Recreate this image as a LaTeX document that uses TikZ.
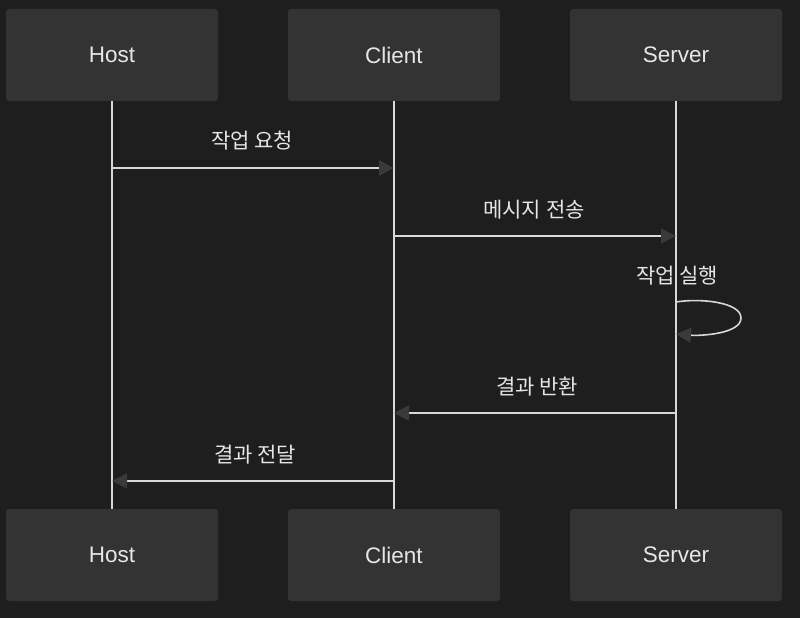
\documentclass[tikz,border=0pt]{standalone}
\usepackage{fontspec}
\setmainfont{Noto Sans CJK KR}
\newfontfamily\latinsans{Liberation Sans}
\usetikzlibrary{arrows.meta}
\definecolor{bg}{HTML}{1E1E1E}
\definecolor{boxfill}{HTML}{333333}
\definecolor{linec}{HTML}{D8D8D8}
\definecolor{txt}{HTML}{E6E6E6}
\definecolor{headc}{HTML}{3A3A3A}
\tikzset{
  actor/.style={fill=boxfill, rounded corners=3pt, minimum width=212pt, minimum height=92pt, inner sep=0pt, text=txt, font=\latinsans\fontsize{22.5}{26}\selectfont},
  life/.style={draw=linec, line width=1.6pt},
  msg/.style={draw=linec, line width=1.6pt, -{Triangle[length=15pt,width=15pt,fill=headc,color=headc]}},
  lbl/.style={text=txt, font=\fontsize{21}{25}\selectfont, inner sep=0pt}
}
\begin{document}
\begin{tikzpicture}[x=1pt,y=-1pt]
\useasboundingbox[fill=bg] (0,0) rectangle (800,618);
\node[actor] (ht) at (112,55) {Host};
\node[actor] (ct) at (394,55) {Client};
\node[actor] (st) at (676,55) {Server};
\node[actor] (hb) at (112,555) {Host};
\node[actor] (cb) at (394,555) {Client};
\node[actor] (sb) at (676,555) {Server};
\draw[life] (ht.south) -- (hb.north);
\draw[life] (ct.south) -- (cb.north);
\draw[life] (st.south) -- (sb.north);
% messages
\coordinate (h1) at (112,168); \coordinate (c1) at (394,168);
\coordinate (c2) at (394,236); \coordinate (s2) at (676,236);
\coordinate (s3a) at (676,302); \coordinate (s3b) at (676,334);
\coordinate (s4) at (676,413); \coordinate (c4) at (394,413);
\coordinate (c5) at (394,481); \coordinate (h5) at (112,481);
\draw[msg] (h1) -- (c1);
\node[lbl] (l1) at (252,141) {작업 요청};
\draw[msg] (c2) -- (s2);
\node[lbl] (l2) at (534,210) {메시지 전송};
\draw[msg] (s3a) .. controls (700,298) and (741,302) .. (741,318) .. controls (741,334) and (700,336) .. (s3b);
\node[lbl] (l3) at (677,276) {작업 실행};
\draw[msg] (s4) -- (c4);
\node[lbl] (l4) at (537,387) {결과 반환};
\draw[msg] (c5) -- (h5);
\node[lbl] (l5) at (255,455) {결과 전달};
\end{tikzpicture}
\end{document}
